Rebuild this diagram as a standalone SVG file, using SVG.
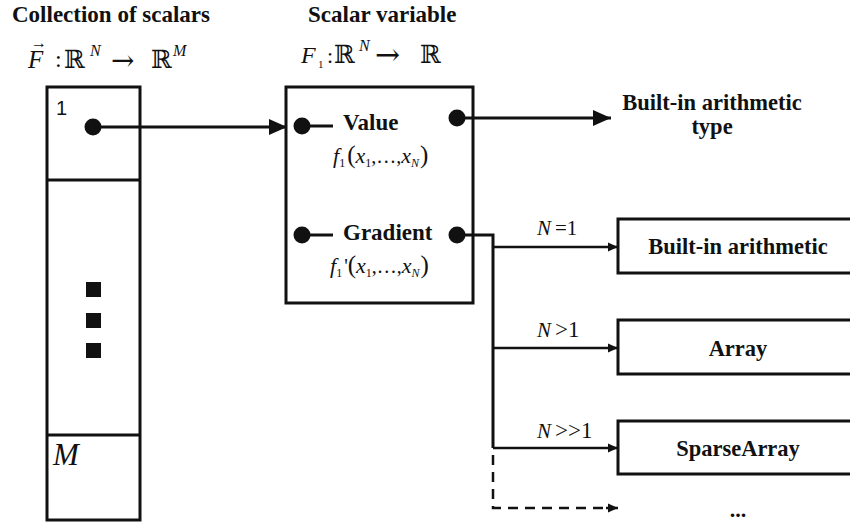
<svg xmlns="http://www.w3.org/2000/svg" width="850" height="523" viewBox="0 0 850 523">
  <style>
    text { fill: #111; }
    .title { font-family: "Liberation Serif", "Times New Roman", serif; font-weight: bold; }
    .math { font-family: "Liberation Serif", "DejaVu Serif", serif; font-style: italic; }
    .up { font-family: "Liberation Serif", "DejaVu Serif", serif; font-style: normal; }
    .bb { font-family: "DejaVu Serif", serif; font-style: normal; }
    .box { fill: #fff; stroke: #111; stroke-width: 3; }
    .edge { fill: none; stroke: #111; stroke-width: 3; }
    .thin { fill: none; stroke: #111; stroke-width: 2.5; }
    .dash { fill: none; stroke: #111; stroke-width: 2.5; stroke-dasharray: 10 7; }
    .dot { fill: #111; }
  </style>
  <defs>
    <marker id="headL" markerUnits="userSpaceOnUse" markerWidth="18" markerHeight="16" refX="18" refY="8" orient="auto">
      <path d="M0,0 L18,8 L0,16 z" fill="#111"/>
    </marker>
    <marker id="headS" markerUnits="userSpaceOnUse" markerWidth="10" markerHeight="10" refX="10" refY="5" orient="auto">
      <path d="M0,0.5 L10,5 L0,9.5 z" fill="#111"/>
    </marker>
  </defs>
  <rect width="850" height="523" fill="#fff"/>

  <!-- headings -->
  <g id="headings">
    <text class="title" x="12" y="22" style="font-size:23px">Collection of scalars</text>
    <text class="title" x="308" y="22" style="font-size:23px">Scalar variable</text>
    <!-- F : R^N -> R^M -->
    <text class="math" x="28" y="68" style="font-size:25px">F</text>
    <text class="up" x="31" y="48" style="font-size:16px">→</text>
    <text class="up" x="55" y="67" style="font-size:24px">:</text>
    <text class="bb" x="64" y="68" style="font-size:25px">ℝ</text>
    <text class="math" x="90" y="56" style="font-size:16px">N</text>
    <text class="bb" x="111" y="70" style="font-size:28px">→</text>
    <text class="bb" x="151" y="68" style="font-size:25px">ℝ</text>
    <text class="math" x="173" y="56" style="font-size:16px">M</text>
    <!-- F1 : R^N -> R -->
    <text class="math" x="301" y="63" style="font-size:24px">F</text>
    <text class="up" x="318" y="68" style="font-size:11px">1</text>
    <text class="up" x="327" y="63" style="font-size:22px">:</text>
    <text class="bb" x="334" y="63" style="font-size:25px">ℝ</text>
    <text class="math" x="359" y="51" style="font-size:16px">N</text>
    <text class="bb" x="375" y="65" style="font-size:30px">→</text>
    <text class="bb" x="420" y="63" style="font-size:25px">ℝ</text>
  </g>

  <!-- collection column -->
  <g id="collection">
    <rect class="box" x="47" y="87" width="93" height="433"/>
    <line class="edge" x1="47" y1="180" x2="140" y2="180"/>
    <line class="edge" x1="47" y1="435" x2="140" y2="435"/>
    <text x="56" y="115" style="font-family:'Liberation Sans', Arial, sans-serif; font-size:20px">1</text>
    <circle class="dot" cx="93" cy="127" r="8.5"/>
    <rect x="86" y="282" width="15" height="15" fill="#111"/>
    <rect x="86" y="313" width="15" height="15" fill="#111"/>
    <rect x="86" y="343" width="15" height="15" fill="#111"/>
    <text class="math" x="53" y="465" style="font-size:31px">M</text>
  </g>

  <!-- scalar variable -->
  <g id="scalar">
    <rect class="box" x="286" y="87" width="187" height="216"/>
    <circle class="dot" cx="302" cy="126" r="8.5"/>
    <line class="edge" x1="302" y1="126" x2="333" y2="126"/>
    <text class="title" x="343" y="130" style="font-size:23px">Value</text>
    <circle class="dot" cx="457" cy="118" r="8.5"/>
    <text class="math" x="333" y="163" style="font-size:22px">f<tspan class="up" dy="4" style="font-size:12px">1</tspan><tspan class="up" dx="2" dy="-4" style="font-size:25px">(</tspan>x<tspan class="up" dy="4" style="font-size:12px">1</tspan><tspan class="up" dy="-4" style="font-size:20px">,…,</tspan>x<tspan dy="4" style="font-size:12px">N</tspan><tspan class="up" dx="1" dy="-4" style="font-size:25px">)</tspan></text>

    <circle class="dot" cx="302" cy="235" r="8.5"/>
    <line class="edge" x1="302" y1="235" x2="333" y2="235"/>
    <text class="title" x="343" y="240" style="font-size:23px">Gradient</text>
    <circle class="dot" cx="457" cy="235" r="8.5"/>
    <text class="math" x="330" y="273" style="font-size:22px">f<tspan class="up" dy="4" style="font-size:12px">1</tspan><tspan class="up" dx="2" dy="-4" style="font-size:20px">'</tspan><tspan class="up" style="font-size:25px">(</tspan>x<tspan class="up" dy="4" style="font-size:12px">1</tspan><tspan class="up" dy="-4" style="font-size:20px">,…,</tspan>x<tspan dy="4" style="font-size:12px">N</tspan><tspan class="up" dx="1" dy="-4" style="font-size:25px">)</tspan></text>
  </g>

  <!-- value type -->
  <g id="builtin-type">
    <text class="title" x="712" y="110" text-anchor="middle" style="font-size:22.5px">Built-in arithmetic</text>
    <text class="title" x="712" y="134" text-anchor="middle" style="font-size:22.5px">type</text>
  </g>

  <!-- gradient representations -->
  <g id="box-builtin">
    <rect class="box" x="618" y="219" width="240" height="54"/>
    <text class="title" x="738" y="254" text-anchor="middle" style="font-size:22.5px">Built-in arithmetic</text>
  </g>
  <g id="box-array">
    <rect class="box" x="618" y="320" width="240" height="54"/>
    <text class="title" x="738" y="356" text-anchor="middle" style="font-size:22.5px">Array</text>
  </g>
  <g id="box-sparse">
    <rect class="box" x="618" y="421" width="240" height="53"/>
    <text class="title" x="738" y="456" text-anchor="middle" style="font-size:22.5px">SparseArray</text>
  </g>
  <g id="ellipsis">
    <text class="title" x="738" y="517" text-anchor="middle" style="font-size:22px">...</text>
  </g>

  <!-- connectors -->
  <g id="connectors">
    <line class="edge" x1="93" y1="127" x2="287" y2="127" marker-end="url(#headL)"/>
    <line class="edge" x1="457" y1="118" x2="611" y2="118" marker-end="url(#headL)"/>
    <polyline class="edge" points="457,235 493,235 493,448"/>
    <line class="thin" x1="493" y1="247" x2="618" y2="247" marker-end="url(#headS)"/>
    <line class="thin" x1="493" y1="348" x2="618" y2="348" marker-end="url(#headS)"/>
    <line class="thin" x1="493" y1="448" x2="618" y2="448" marker-end="url(#headS)"/>
    <polyline class="dash" points="493,455 493,508 608,508"/>
    <line class="thin" x1="606" y1="508" x2="618" y2="508" marker-end="url(#headS)"/>
    <text class="math" x="537" y="235" style="font-size:21px">N<tspan class="up" dx="4" style="font-size:21px">=1</tspan></text>
    <text class="math" x="537" y="337" style="font-size:21px">N<tspan class="up" dx="4" style="font-size:23px">&gt;1</tspan></text>
    <text class="math" x="537" y="438" style="font-size:21px">N<tspan class="up" dx="4" style="font-size:23px">&gt;&gt;1</tspan></text>
  </g>
</svg>
